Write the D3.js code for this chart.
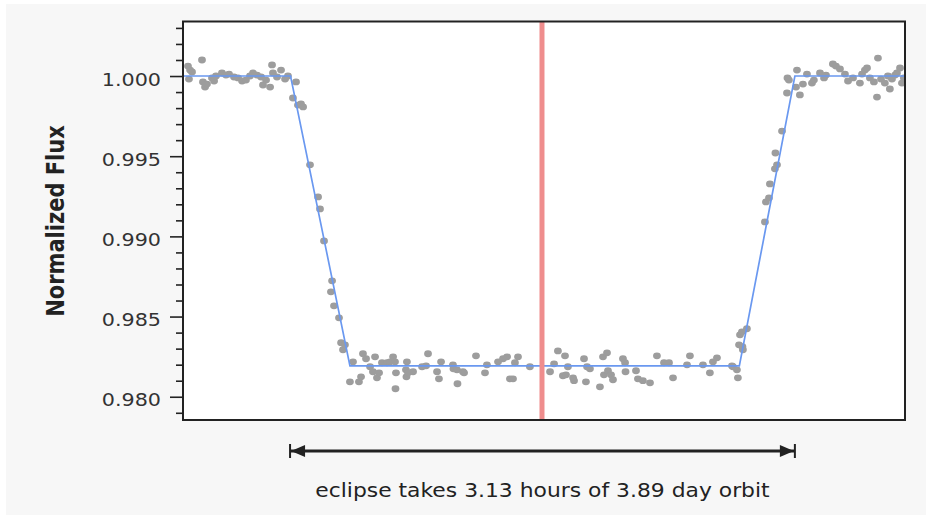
<!DOCTYPE html>
<html>
<head>
<meta charset="utf-8">
<script src="https://cdn.jsdelivr.net/npm/d3@7"></script>
<style>
  html, body { margin: 0; padding: 0; background: #fff; }
  svg { display: block; font-family: Verdana, "DejaVu Sans", sans-serif; }
</style>
</head>
<body>
<div id="chart"></div>
<script>
// Light curve of a transit: hours from mid-transit vs normalized flux
const times = [
  -2.199, -2.193, -2.186, -2.174, -2.112, -2.106, -2.093, -2.081, -2.050, -2.037,
  -2.025, -1.988, -1.963, -1.944, -1.913, -1.888, -1.863, -1.839, -1.814, -1.795,
  -1.770, -1.745, -1.733, -1.714, -1.689, -1.677, -1.671, -1.646, -1.621, -1.596,
  -1.578,
  -1.547, -1.528, -1.516, -1.497, -1.484, -1.441, -1.391, -1.379, -1.354, -1.311,
  -1.304, -1.292, -1.261, -1.248, -1.236, -1.224,
  -1.193, -1.174, -1.137, -1.124, -1.112, -1.093, -1.068, -1.050, -1.037, -1.025,
  -1.012, -0.994, -0.963, -0.944, -0.925, -0.913, -0.910, -0.907, -0.845, -0.842,
  -0.839, -0.832, -0.801, -0.745, -0.720, -0.708, -0.652, -0.640, -0.627, -0.553,
  -0.550, -0.528, -0.525, -0.491, -0.484, -0.410, -0.354, -0.342, -0.273, -0.242,
  -0.217, -0.199, -0.180, -0.168, -0.149, -0.075,
  0.050, 0.075, 0.099, 0.130, 0.143, 0.149, 0.161, 0.193, 0.199, 0.261,
  0.273, 0.280, 0.298, 0.360, 0.379, 0.385, 0.404, 0.410, 0.429, 0.441,
  0.503, 0.516, 0.519, 0.584, 0.596, 0.627, 0.671, 0.714, 0.758, 0.789,
  0.814, 0.901, 0.919, 1.000, 1.043, 1.062, 1.087, 1.180, 1.186, 1.211,
  1.217,
  1.224, 1.230, 1.242, 1.245, 1.248, 1.273, 1.385, 1.391, 1.410, 1.416,
  1.447, 1.450, 1.460, 1.491, 1.522,
  1.525, 1.534, 1.578, 1.584, 1.602, 1.621, 1.646, 1.677, 1.689, 1.727,
  1.752, 1.764, 1.807, 1.826, 1.851, 1.882, 1.901, 1.932, 1.975, 1.988,
  2.006, 2.019, 2.037, 2.062, 2.081, 2.087, 2.106, 2.130, 2.149, 2.161,
  2.174, 2.193, 2.205, 2.224, 2.236, 2.248
];
const fluxes = [
  1.00062, 0.99981, 1.00037, 1.00025, 1.00100, 0.99963, 0.99931, 0.99950, 0.99988, 0.99969,
  1.00000, 1.00019, 1.00006, 1.00012, 0.99994, 0.99988, 0.99969, 0.99975, 1.00000, 1.00019,
  1.00006, 0.99994, 0.99944, 0.99975, 0.99931, 1.00069, 1.00019, 0.99994, 1.00037, 0.99981,
  1.00000,
  0.99863, 0.99963, 0.99819, 0.99826, 0.99807, 0.99446, 0.99246, 0.99171, 0.98972, 0.98654,
  0.98723, 0.98567, 0.98492, 0.98337, 0.98293, 0.98324,
  0.98093, 0.98218, 0.98093, 0.98124, 0.98268, 0.98237, 0.98187, 0.98156, 0.98249, 0.98118,
  0.98149, 0.98212, 0.98212, 0.98218, 0.98249, 0.98218, 0.98050, 0.98149, 0.98168, 0.98124,
  0.98218, 0.98149, 0.98156, 0.98187, 0.98193, 0.98268, 0.98156, 0.98112, 0.98218, 0.98199,
  0.98174, 0.98168, 0.98081, 0.98156, 0.98149, 0.98255, 0.98149, 0.98199, 0.98218, 0.98237,
  0.98249, 0.98112, 0.98112, 0.98212, 0.98249, 0.98187,
  0.98156, 0.98205, 0.98286, 0.98131, 0.98255, 0.98137, 0.98187, 0.98118, 0.98100, 0.98237,
  0.98093, 0.98187, 0.98174, 0.98062, 0.98249, 0.98137, 0.98274, 0.98162, 0.98137, 0.98106,
  0.98237, 0.98212, 0.98156, 0.98162, 0.98112, 0.98100, 0.98087, 0.98255, 0.98212, 0.98212,
  0.98118, 0.98199, 0.98255, 0.98199, 0.98149, 0.98218, 0.98243, 0.98193, 0.98187, 0.98168,
  0.98118,
  0.98324, 0.98386, 0.98405, 0.98312, 0.98293, 0.98424, 0.99090, 0.99215, 0.99240, 0.99327,
  0.99421, 0.99520, 0.99446, 0.99657, 0.99894,
  0.99988, 0.99975, 0.99931, 1.00037, 0.99882, 0.99950, 1.00012, 0.99956, 0.99975, 1.00019,
  0.99988, 1.00006, 1.00075, 1.00062, 1.00044, 1.00012, 0.99969, 0.99988, 0.99956, 1.00012,
  1.00037, 1.00050, 0.99988, 0.99963, 0.99869, 1.00112, 0.99981, 0.99956, 1.00000, 0.99919,
  0.99981, 1.00006, 1.00019, 1.00050, 0.99956, 0.99988
];

// fitted transit model (trapezoid)
const modelTimes = [-2.23, -1.562, -1.193, 1.226, 1.571, 2.255];
const modelFlux  = [1.000, 1.000, 0.98193, 0.98193, 1.000, 1.000];

const majorTicks = [0.980, 0.985, 0.990, 0.995, 1.000];
const minorTicks = [0.979, 0.981, 0.982, 0.983, 0.984, 0.986, 0.987, 0.988, 0.989,
                    0.991, 0.992, 0.993, 0.994, 0.996, 0.997, 0.998, 0.999,
                    1.001, 1.002, 1.003];

const midTransit = 0;
const eclipseStart = -1.565, eclipseEnd = 1.571;
const yTitle = "Normalized Flux";
const caption = "eclipse takes 3.13 hours of 3.89 day orbit";

// ---- chart ----
const W = 934, H = 519;
const plot = {left: 183, right: 905, top: 21.5, bottom: 420};
const sx = 1.15; // the original text is a bit wide

const data = times.map((t, i) => ({t: t, f: fluxes[i]}));
const model = modelTimes.map((t, i) => ({t: t, f: modelFlux[i]}));

const x = d3.scaleLinear().domain([-2.23, 2.255]).range([plot.left, plot.right]);
const y = d3.scaleLinear().domain([0.97855, 1.0034]).range([plot.bottom, plot.top]);

const svg = d3.select("#chart").append("svg")
    .attr("width", W)
    .attr("height", H);

svg.append("rect")
    .attr("x", 6).attr("y", 4)
    .attr("width", 920).attr("height", 511)
    .attr("fill", "#f7f7f7");

svg.append("rect")
    .attr("x", plot.left).attr("y", plot.top)
    .attr("width", plot.right - plot.left).attr("height", plot.bottom - plot.top)
    .attr("fill", "#fff");

svg.append("clipPath").attr("id", "clip")
  .append("rect")
    .attr("x", plot.left).attr("y", plot.top)
    .attr("width", plot.right - plot.left).attr("height", plot.bottom - plot.top);

const g = svg.append("g").attr("clip-path", "url(#clip)");

// data points
g.selectAll("ellipse")
  .data(data)
  .enter()
  .append("ellipse")
    .attr("cx", d => x(d.t))
    .attr("cy", d => y(d.f))
    .attr("rx", 3.9)
    .attr("ry", 3.4)
    .attr("fill", "#9d9d9d");

// model line
g.append("path")
    .datum(model)
    .attr("fill", "none")
    .attr("stroke", "#6a98f0")
    .attr("stroke-width", 1.7)
    .attr("d", d3.line().x(d => x(d.t)).y(d => y(d.f)));

// mid transit
g.append("line")
    .attr("x1", x(midTransit)).attr("x2", x(midTransit))
    .attr("y1", plot.top).attr("y2", plot.bottom)
    .attr("stroke", "#ef8d8d")
    .attr("stroke-width", 5);

// frame
svg.append("rect")
    .attr("x", plot.left).attr("y", plot.top)
    .attr("width", plot.right - plot.left).attr("height", plot.bottom - plot.top)
    .attr("fill", "none")
    .attr("stroke", "#222")
    .attr("stroke-width", 2);

// y axis: minor + major ticks
const minorAxis = svg.append("g")
    .attr("transform", "translate(" + plot.left + ",0)")
    .call(d3.axisLeft(y).tickValues(minorTicks).tickSize(7).tickFormat(""));
const majorAxis = svg.append("g")
    .attr("transform", "translate(" + plot.left + ",0)")
    .call(d3.axisLeft(y).tickValues(majorTicks).tickSize(13).tickFormat(d3.format(".3f")));

[minorAxis, majorAxis].forEach(a => {
  a.select(".domain").remove();
  a.selectAll("line").attr("stroke", "#222").attr("stroke-width", 1.6);
});
majorAxis.selectAll("text")
    .attr("x", null)
    .attr("dy", null)
    .attr("transform", "translate(-22,9) scale(" + sx + ",1)")
    .attr("fill", "#333")
    .style("font-size", "18px")
    .style("font-family", "Verdana, 'DejaVu Sans', sans-serif");

// y title
svg.append("text")
    .attr("transform", "translate(64,221) scale(" + sx + ",1) rotate(-90)")
    .attr("text-anchor", "middle")
    .attr("font-weight", "bold")
    .attr("font-size", 21)
    .attr("fill", "#222")
    .text(yTitle);

// eclipse duration arrow
const ay = 451;
const xa = x(eclipseStart), xb = x(eclipseEnd);
svg.append("line")
    .attr("x1", xa).attr("x2", xb)
    .attr("y1", ay).attr("y2", ay)
    .attr("stroke", "#222")
    .attr("stroke-width", 3);
[xa, xb].forEach(xx => {
  svg.append("line")
      .attr("x1", xx).attr("x2", xx)
      .attr("y1", ay - 7).attr("y2", ay + 7)
      .attr("stroke", "#222")
      .attr("stroke-width", 2);
});
svg.append("path")
    .attr("d", `M${xa + 1},${ay} L${xa + 15},${ay - 6} L${xa + 15},${ay + 6} Z`)
    .attr("fill", "#222");
svg.append("path")
    .attr("d", `M${xb - 1},${ay} L${xb - 15},${ay - 6} L${xb - 15},${ay + 6} Z`)
    .attr("fill", "#222");

svg.append("text")
    .attr("transform", "translate(" + ((xa + xb) / 2) + ",497) scale(" + sx + ",1)")
    .attr("text-anchor", "middle")
    .attr("font-size", 19)
    .attr("fill", "#222")
    .text(caption);
</script>
</body>
</html>
